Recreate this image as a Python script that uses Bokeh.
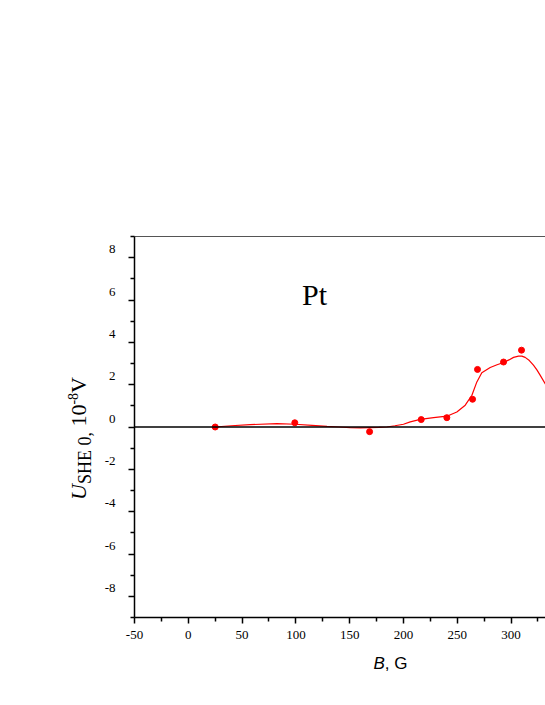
import math
from bokeh.plotting import figure
from bokeh.layouts import column, row
from bokeh.models import FixedTicker, LinearAxis, Span, Label, Range1d, Div
from bokeh.embed import file_html
from bokeh.resources import INLINE

# measured data points (B in G, U in 1e-8 V)
points_b = [25, 99, 168.5, 216.5, 240.3, 264.2, 268.8, 293, 309.7]
points_u = [0.0, 0.20, -0.22, 0.35, 0.44, 1.31, 2.72, 3.07, 3.63]

# fitted curve
curve_b = [24.4, 40, 57.6, 82.4, 99.4, 115, 128.9, 140, 150.5, 160, 169, 177, 184.6,
           192, 200, 206.3, 215.6, 228, 240.3, 249.6, 257.4, 263.6, 268.2, 272.8,
           280.6, 287, 293, 298, 302.3, 306.9, 310, 313.1, 317, 320.8, 324, 327, 331.7, 340]
curve_u = [0.0, 0.06, 0.11, 0.16, 0.13, 0.08, 0.03, 0.0, -0.03, -0.04, -0.03, -0.02, 0.0,
           0.06, 0.13, 0.24, 0.36, 0.44, 0.51, 0.71, 1.03, 1.50, 2.13, 2.56,
           2.81, 2.94, 3.05, 3.17, 3.29, 3.35, 3.35, 3.29, 3.14, 2.92, 2.70, 2.45, 2.05, 1.2]

x_ticks = [-50, 0, 50, 100, 150, 200, 250, 300]
x_minor = [-25, 25, 75, 125, 175, 225, 275, 325]
y_ticks = [-8, -6, -4, -2, 0, 2, 4, 6, 8]
y_minor = [-9, -7, -5, -3, -1, 1, 3, 5, 7, 9]

X0, X1 = -50, 332
Y0, Y1 = -9, 9
FW, FH = 411, 381
BL, BT = 134, 236   # frame left / top on the page
LW = 100            # width of the y-label strip
MAIN_H = BT + FH + 28
XL_H = 50

FONT = "Liberation Serif"
SHIFT = 0.43        # baseline compensation (em)


def bare(fig):
    fig.outline_line_color = None
    fig.xgrid.visible = False
    fig.ygrid.visible = False
    fig.background_fill_color = "white"
    fig.border_fill_color = "white"
    fig.min_border = 0


p = figure(frame_width=FW, frame_height=FH, output_backend="svg", toolbar_location=None,
           x_range=Range1d(X0, X1), y_range=Range1d(Y0, Y1),
           x_axis_type=None, y_axis_type=None)
bare(p)
p.min_border_left = BL - LW
p.min_border_right = 0
p.min_border_top = BT
p.min_border_bottom = MAIN_H - BT - FH


def style_axis(ax):
    ax.axis_line_width = 1.5
    ax.axis_line_color = "black"
    ax.major_tick_line_color = "black"
    ax.major_tick_line_width = 1.5
    ax.minor_tick_line_color = "black"
    ax.minor_tick_line_width = 1.5
    ax.major_tick_in = 0
    ax.major_tick_out = 6
    ax.minor_tick_in = 0
    ax.minor_tick_out = 4
    ax.major_label_text_font = FONT
    ax.major_label_text_font_size = "13px"
    ax.major_label_text_color = "black"


xa = LinearAxis(ticker=FixedTicker(ticks=x_ticks, minor_ticks=x_minor))
style_axis(xa)
xa.major_label_standoff = 7
xa.major_label_overrides = {t: str(t) for t in x_ticks}
p.add_layout(xa, "below")

ya = LinearAxis(ticker=FixedTicker(ticks=y_ticks, minor_ticks=y_minor))
style_axis(ya)
ya.major_label_standoff = 13
ya.major_label_overrides = {t: str(t) + "\n " for t in y_ticks}
p.add_layout(ya, "left")

top = LinearAxis(ticker=FixedTicker(ticks=[]))
top.axis_line_color = "#555555"
top.axis_line_width = 1
top.major_tick_line_color = None
top.minor_tick_line_color = None
top.major_label_text_font_size = "0px"
p.add_layout(top, "above")

p.add_layout(Span(location=0, dimension="width", line_color="black", line_width=1.5))

p.line(curve_b, curve_u, line_color="red", line_width=1.2)
p.scatter(points_b, points_u, size=6, color="red")


def dx(px):
    return X0 + (px - BL) * (X1 - X0) / FW


def dy(py):
    return Y1 - (py - BT) * (Y1 - Y0) / FH


p.add_layout(Label(x=dx(301.5), y=dy(307 - SHIFT * 30), text="Pt", text_font=FONT,
                   text_font_size="30px", text_align="left", text_baseline="alphabetic",
                   text_color="black"))

# strip on the left carrying the rotated y axis title as rich text
y_title_html = (
    f'<div style="position:relative;width:{LW}px;height:{MAIN_H}px;overflow:visible;">'
    '<div style="position:absolute;left:68px;top:500px;transform-origin:0 0;'
    'transform:rotate(-90deg);white-space:nowrap;font-family:\'Liberation Serif\';'
    'font-size:22px;line-height:22px;color:black;margin:0;padding:0;">'
    '<i>U</i><sub style="font-size:18px;line-height:0;">SHE 0,</sub> 10'
    '<sup style="font-size:14px;line-height:0;">-8</sup>V</div></div>'
)
yl = Div(text=y_title_html, width=LW, height=MAIN_H, margin=0)

# strip below carrying the x axis title
W = BL + FW
xl = figure(frame_width=W, frame_height=XL_H, output_backend="svg", toolbar_location=None,
            x_range=Range1d(0, W), y_range=Range1d(MAIN_H + XL_H, MAIN_H),
            x_axis_type=None, y_axis_type=None)
bare(xl)
xl.add_layout(Label(x=373, y=670 - SHIFT * 17, text="B", text_font="Liberation Sans",
                    text_font_style="italic", text_font_size="17px",
                    text_baseline="alphabetic", text_color="black"))
xl.add_layout(Label(x=373 + 0.667 * 17, y=670 - SHIFT * 17, text=", G",
                    text_font="Liberation Sans", text_font_size="17px",
                    text_baseline="alphabetic", text_color="black"))

layout = column(row(yl, p, spacing=0), xl, spacing=0)
open("out.html", "w").write(file_html(layout, INLINE))
